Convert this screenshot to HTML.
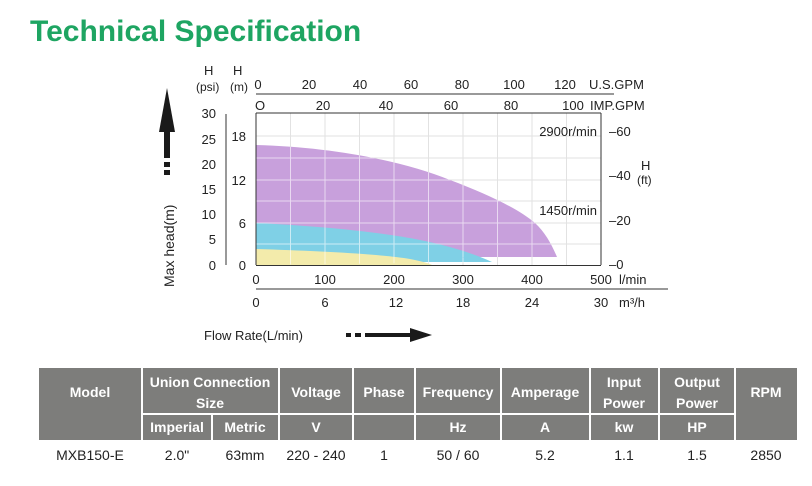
<!DOCTYPE html>
<html><head><meta charset="utf-8"><style>
body{margin:0;background:#fff;width:812px;height:481px;overflow:hidden;font-family:"Liberation Sans",sans-serif}
</style></head><body>
<svg width="812" height="481" xmlns="http://www.w3.org/2000/svg" font-family="Liberation Sans, sans-serif">
<defs>
<g id="grid">
<line x1="290.5" y1="113" x2="290.5" y2="265"/><line x1="325" y1="113" x2="325" y2="265"/><line x1="359.5" y1="113" x2="359.5" y2="265"/><line x1="394" y1="113" x2="394" y2="265"/><line x1="428.5" y1="113" x2="428.5" y2="265"/><line x1="463" y1="113" x2="463" y2="265"/><line x1="497.5" y1="113" x2="497.5" y2="265"/><line x1="532" y1="113" x2="532" y2="265"/><line x1="566.5" y1="113" x2="566.5" y2="265"/>
<line x1="256" y1="136" x2="601" y2="136"/><line x1="256" y1="158" x2="601" y2="158"/><line x1="256" y1="180" x2="601" y2="180"/><line x1="256" y1="201" x2="601" y2="201"/><line x1="256" y1="223" x2="601" y2="223"/><line x1="256" y1="244" x2="601" y2="244"/>
</g>
</defs>
<text x="30" y="41" font-size="30" font-weight="bold" fill="#1ea562">Technical Specification</text>
<use href="#grid" stroke="#e2e2e2" stroke-width="1"/>
<path d="M256,145 C330,147 400,160 450,180 C490,195 520,210 535,223 C545,232 552,245 557,257 L256,257 Z" fill="#c8a0dc"/>
<path d="M256,223 C320,226 380,232 420,240 C450,246 475,254 492,262 L256,262 Z" fill="#7fd0e6"/>
<path d="M256,249 C320,251 380,254 410,259 C420,261 428,263 432,265 L256,265 Z" fill="#f3ebab"/>
<clipPath id="c"><path d="M256,145 C330,147 400,160 450,180 C490,195 520,210 535,223 C545,232 552,245 557,257 L256,257 Z M256,223 L492,262 L256,265 Z"/></clipPath>
<use href="#grid" stroke="#fff" stroke-width="1" opacity="0.6" clip-path="url(#c)"/>
<g stroke="#333" stroke-width="1" fill="none">
<line x1="256" y1="113" x2="256" y2="265"/><line x1="256" y1="265.5" x2="601" y2="265.5"/><line x1="601" y1="113" x2="601" y2="265"/>
<line x1="256" y1="113" x2="601" y2="113"/>
<line x1="226" y1="114" x2="226" y2="265"/>
<line x1="256" y1="94" x2="614" y2="94"/>
<line x1="256" y1="289" x2="668" y2="289"/>
</g>
<g font-size="13" fill="#222">
<text x="204" y="75">H</text><text x="233" y="75">H</text>
<text x="196" y="91" font-size="12">(psi)</text><text x="230" y="91" font-size="12">(m)</text>
<g text-anchor="middle">
<text x="258" y="89">0</text><text x="309" y="89">20</text><text x="360" y="89">40</text><text x="411" y="89">60</text><text x="462" y="89">80</text><text x="514" y="89">100</text><text x="565" y="89">120</text>
<text x="260" y="110">O</text><text x="323" y="110">20</text><text x="386" y="110">40</text><text x="451" y="110">60</text><text x="511" y="110">80</text><text x="573" y="110">100</text>
<text x="256" y="284">0</text><text x="325" y="284">100</text><text x="394" y="284">200</text><text x="463" y="284">300</text><text x="532" y="284">400</text><text x="601" y="284">500</text>
<text x="256" y="307">0</text><text x="325" y="307">6</text><text x="396" y="307">12</text><text x="463" y="307">18</text><text x="532" y="307">24</text><text x="601" y="307">30</text>
</g>
<text x="589" y="89">U.S.GPM</text><text x="590" y="110">IMP.GPM</text>
<text x="619" y="284">l/min</text><text x="619" y="307">m³/h</text>
<g text-anchor="end">
<text x="216" y="118">30</text><text x="216" y="144">25</text><text x="216" y="169">20</text><text x="216" y="194">15</text><text x="216" y="219">10</text><text x="216" y="244">5</text><text x="216" y="270">0</text>
<text x="246" y="141">18</text><text x="246" y="185">12</text><text x="246" y="228">6</text><text x="246" y="270">0</text>
<text x="597" y="136">2900r/min</text><text x="597" y="215">1450r/min</text>
</g>
<text x="609" y="136">–60</text><text x="609" y="180">–40</text><text x="609" y="225">–20</text><text x="609" y="269">–0</text>
<text x="641" y="170">H</text><text x="637" y="184" font-size="12">(ft)</text>
<text x="204" y="340">Flow Rate(L/min)</text>
<text transform="translate(174,287) rotate(-90)" font-size="14">Max head(m)</text>
</g>
<g fill="#1a1a1a">
<path d="M159,132 L167,88 L175,132 Z"/><rect x="164" y="130" width="6" height="28"/><rect x="164" y="162" width="6" height="5"/><rect x="164" y="170" width="6" height="5"/>
<rect x="346" y="333" width="5" height="4"/><rect x="355" y="333" width="6" height="4"/><rect x="365" y="333" width="48" height="4"/><path d="M410,328 L432,335 L410,342 Z"/>
</g>
<rect x="39" y="368" width="758" height="72" fill="#7d7d7b"/>
<g stroke="#fff" stroke-width="2">
<line x1="142" y1="368" x2="142" y2="440"/><line x1="279" y1="368" x2="279" y2="440"/><line x1="353" y1="368" x2="353" y2="440"/><line x1="415" y1="368" x2="415" y2="440"/><line x1="501" y1="368" x2="501" y2="440"/><line x1="590" y1="368" x2="590" y2="440"/><line x1="659" y1="368" x2="659" y2="440"/><line x1="735" y1="368" x2="735" y2="440"/>
<line x1="212" y1="414" x2="212" y2="440"/>
<line x1="142" y1="414" x2="735" y2="414"/>
</g>
<g font-size="14" font-weight="bold" fill="#fff" text-anchor="middle">
<text x="90" y="397">Model</text>
<text x="210" y="387">Union Connection</text><text x="210" y="408">Size</text>
<text x="316" y="397">Voltage</text><text x="384" y="397">Phase</text><text x="458" y="397">Frequency</text><text x="545" y="397">Amperage</text>
<text x="624" y="387">Input</text><text x="624" y="408">Power</text><text x="697" y="387">Output</text><text x="697" y="408">Power</text><text x="766" y="397">RPM</text>
<text x="177" y="432">Imperial</text><text x="245" y="432">Metric</text><text x="316" y="432">V</text><text x="458" y="432">Hz</text><text x="545" y="432">A</text><text x="624" y="432">kw</text><text x="697" y="432">HP</text>
</g>
<g font-size="14" fill="#222" text-anchor="middle">
<text x="90" y="460">MXB150-E</text><text x="177" y="460">2.0"</text><text x="245" y="460">63mm</text><text x="316" y="460">220 - 240</text><text x="384" y="460">1</text><text x="458" y="460">50 / 60</text><text x="545" y="460">5.2</text><text x="624" y="460">1.1</text><text x="697" y="460">1.5</text><text x="766" y="460">2850</text>
</g>
</svg>
</body></html>
